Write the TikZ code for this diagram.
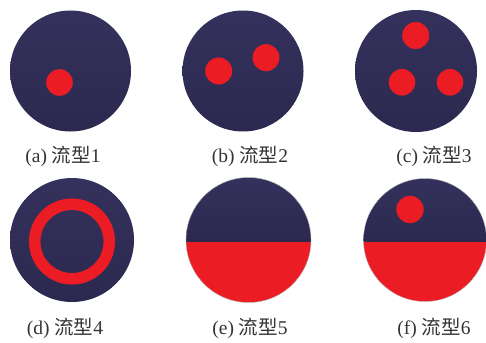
\documentclass[tikz,border=0pt]{standalone}
\usepackage{fontspec}
\setmainfont{Liberation Serif}
\newfontfamily\cjk{Noto Sans CJK SC}
\definecolor{navyT}{HTML}{34325C}
\definecolor{navyB}{HTML}{2B294F}
\definecolor{flowred}{HTML}{EC1C24}
\definecolor{txt}{HTML}{333333}
\begin{document}
\begin{tikzpicture}[x=1pt,y=-1pt,
  pipe/.style={top color=navyT,bottom color=navyB},
  drop/.style={fill=flowred},
  lbl/.style={font=\fontsize{19.5}{22}\selectfont,text=txt,inner sep=0pt,anchor=base}]
\useasboundingbox (0,0) rectangle (486,342);
% (a)
\shade[pipe] (70.5,71) circle[radius=60.5pt];
\fill[drop] (59.5,82.5) circle[radius=13.3pt];
% (b)
\shade[pipe] (243,71) circle[radius=60.5pt];
\fill[drop] (218.7,71) circle[radius=13.5pt];
\fill[drop] (266,57.7) circle[radius=13.5pt];
% (c)
\shade[pipe] (416,71) circle[radius=61pt];
\fill[drop] (415.7,35.5) circle[radius=13.5pt];
\fill[drop] (402,82.3) circle[radius=13.3pt];
\fill[drop] (450,82.3) circle[radius=13.3pt];
% (d)
\shade[pipe] (72,240) circle[radius=62pt];
\draw[flowred,line width=11.5pt] (72,241.5) circle[radius=37.3pt];
% (e)
\begin{scope}
\clip (248.5,240) circle[radius=62.5pt];
\shade[pipe] (185,177) rectangle (312,241.7);
\fill[drop] (185,241.7) rectangle (312,304);
\end{scope}
\draw[gray!60,line width=0.4pt] (248.5,240) circle[radius=62.5pt];
% (f)
\begin{scope}
\clip (425,240) circle[radius=61.5pt];
\shade[pipe] (362,177) rectangle (487,241.7);
\fill[drop] (362,241.7) rectangle (487,304);
\end{scope}
\draw[gray!60,line width=0.4pt] (425,240) circle[radius=61.5pt];
\fill[drop] (410,209.5) circle[radius=13.7pt];
% labels
\node[lbl] (la) at (63,162) {(a) {\cjk 流型}1};
\node[lbl] (lb) at (250,162) {(b) {\cjk 流型}2};
\node[lbl] (lc) at (434,162) {(c) {\cjk 流型}3};
\node[lbl] (ld) at (65,334) {(d) {\cjk 流型}4};
\node[lbl] (le) at (250,334) {(e) {\cjk 流型}5};
\node[lbl] (lf) at (434,334) {(f) {\cjk 流型}6};
\end{tikzpicture}
\end{document}
